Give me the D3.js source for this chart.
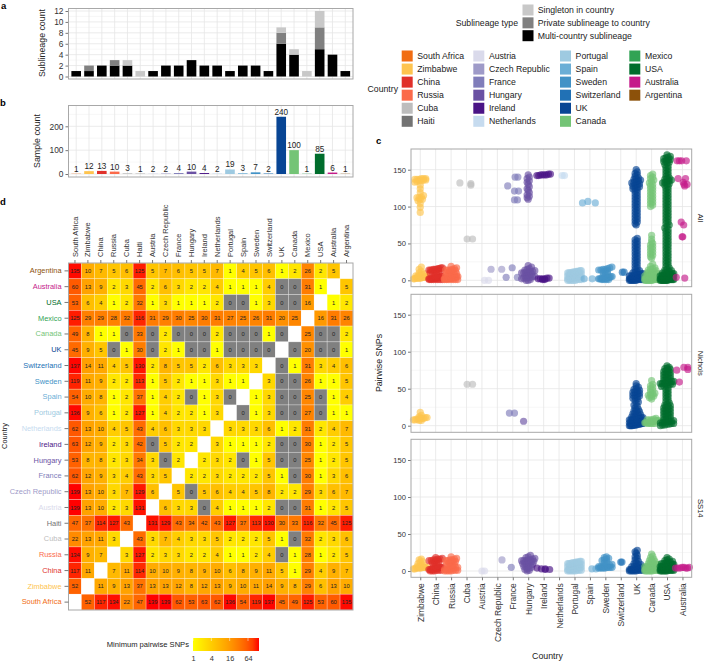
<!DOCTYPE html>
<html lang="en">
<head>
<meta charset="UTF-8">
<title>Sublineages by country</title>
<script src="https://d3js.org/d3.v7.min.js"></script>
<style>
  html, body { margin: 0; padding: 0; background: #fff; }
  svg { display: block; }
  text { font-family: "Liberation Sans", Arial, sans-serif; }
  .tick text { fill: #333; }
  .domain { display: none; }
</style>
</head>
<body>
<svg id="chart" width="705" height="662"></svg>
<script>
// ---- data ----
var countries = ["South Africa", "Zimbabwe", "China", "Russia", "Cuba", "Haiti", "Austria", "Czech Republic",
    "France", "Hungary", "Ireland", "Netherlands", "Portugal", "Spain", "Sweden", "Switzerland",
    "UK", "Canada", "Mexico", "USA", "Australia", "Argentina"];
var countryColors = ["#f16d13", "#fec44f", "#e0302a", "#fb6a4a", "#bdbdbd", "#737373", "#dadaeb", "#9e9ac8",
    "#807dba", "#6a51a3", "#4a1486", "#c6dbef", "#9ecae1", "#6baed6", "#4292c6", "#2171b5",
    "#084594", "#74c476", "#31a354", "#006d2c", "#c51b8a", "#8c510a"];

var multiCountry = [1, 1, 2, 2, 2, 0, 1, 2, 2, 3, 2, 2, 1, 2, 2, 1, 6, 4, 0, 5, 4, 1];
var privateSub   = [0, 1, 0, 1, 0, 0, 0, 0, 0, 0, 0, 0, 0, 0, 0, 0, 2, 0, 0, 4, 0, 0];
var singleton    = [0, 0, 0, 0, 1, 1, 0, 0, 0, 0, 0, 0, 0, 0, 0, 0, 1, 1, 1, 3, 0, 0];
var sampleCount  = [1, 12, 13, 10, 3, 1, 2, 2, 4, 10, 4, 2, 19, 3, 7, 2, 240, 100, 1, 85, 6, 1];

// rows from top to bottom, columns in country order, null on the diagonal
var heatRows = ["Argentina", "Australia", "USA", "Mexico", "Canada", "UK", "Switzerland", "Sweden", "Spain",
    "Portugal", "Netherlands", "Ireland", "Hungary", "France", "Czech Republic", "Austria", "Haiti", "Cuba",
    "Russia", "China", "Zimbabwe", "South Africa"];
var heatValues = [
    [135, 10, 7, 5, 6, 125, 5, 7, 6, 5, 5, 7, 1, 4, 5, 6, 1, 2, 26, 2, 5, null],
    [60, 13, 9, 2, 3, 45, 2, 6, 3, 2, 2, 4, 1, 1, 1, 4, 0, 0, 31, 1, null, 5],
    [53, 6, 4, 1, 2, 32, 1, 3, 1, 1, 1, 2, 0, 0, 1, 3, 0, 0, 16, null, 1, 2],
    [125, 29, 29, 28, 32, 116, 31, 29, 30, 25, 30, 31, 27, 25, 26, 31, 20, 25, null, 16, 31, 26],
    [49, 8, 1, 1, 0, 33, 0, 2, 0, 0, 0, 2, 0, 0, 0, 1, 0, null, 25, 0, 0, 2],
    [45, 9, 5, 0, 1, 30, 0, 2, 1, 0, 0, 1, 0, 0, 0, 0, null, 0, 20, 0, 0, 1],
    [137, 14, 11, 4, 5, 130, 2, 8, 5, 5, 2, 6, 3, 3, 3, null, 0, 1, 31, 3, 4, 6],
    [119, 11, 9, 2, 2, 113, 1, 5, 2, 1, 1, 3, 1, 1, null, 3, 0, 0, 26, 1, 1, 5],
    [54, 10, 8, 1, 2, 37, 1, 4, 2, 0, 1, 3, 0, null, 1, 3, 0, 0, 25, 0, 1, 4],
    [136, 9, 6, 1, 2, 127, 1, 4, 2, 2, 1, 3, null, 0, 1, 3, 0, 0, 27, 0, 1, 1],
    [62, 13, 10, 4, 5, 43, 4, 6, 3, 3, 3, null, 3, 3, 3, 6, 1, 2, 31, 2, 4, 7],
    [63, 12, 9, 2, 3, 42, 0, 5, 2, 2, null, 3, 1, 1, 1, 2, 0, 0, 30, 1, 2, 5],
    [53, 8, 8, 2, 3, 34, 3, 0, 2, null, 2, 3, 2, 0, 1, 5, 0, 0, 25, 1, 2, 5],
    [62, 12, 9, 3, 4, 43, 3, 5, null, 2, 2, 3, 2, 2, 2, 5, 1, 0, 30, 1, 3, 6],
    [139, 13, 10, 3, 7, 129, 6, null, 5, 0, 5, 6, 4, 4, 5, 8, 2, 2, 29, 3, 6, 7],
    [139, 13, 10, 2, 3, 131, null, 6, 3, 3, 0, 4, 1, 1, 1, 2, 0, 0, 31, 1, 2, 5],
    [47, 37, 114, 127, 43, null, 131, 129, 43, 34, 42, 43, 127, 37, 113, 130, 30, 33, 116, 32, 45, 125],
    [22, 13, 11, 3, null, 43, 3, 7, 4, 3, 3, 5, 2, 2, 2, 5, 1, 0, 32, 2, 3, 6],
    [134, 9, 7, null, 3, 127, 2, 3, 3, 2, 2, 4, 1, 1, 2, 4, 0, 1, 28, 1, 2, 5],
    [117, 11, null, 7, 11, 114, 10, 10, 9, 8, 9, 10, 6, 8, 9, 11, 5, 1, 29, 4, 9, 7],
    [52, null, 11, 9, 13, 37, 13, 13, 12, 8, 12, 13, 9, 10, 11, 14, 9, 8, 29, 6, 13, 10],
    [null, 52, 117, 134, 22, 47, 139, 139, 62, 53, 63, 62, 136, 54, 119, 137, 45, 49, 125, 53, 60, 135]
];
var heatLegendTicks = [1, 4, 16, 64];

var snpCountries = ["Zimbabwe", "China", "Russia", "Cuba", "Austria", "Czech Republic", "France", "Hungary",
    "Ireland", "Netherlands", "Portugal", "Spain", "Sweden", "Switzerland", "UK", "Canada", "USA", "Australia"];

// pairwise SNPs per country
var allSnps = {
    "Zimbabwe": [2, 2, 3, 3, 3, 3, 3, 4, 4, 4, 5, 5, 6, 6, 7, 8, 9, 10, 12, 15, 18, 92, 99, 104, 108, 110, 110, 112, 112, 113, 115, 119, 124, 129, 133, 134, 135, 135, 136, 136, 137, 137, 137, 138, 138, 138],
    "China": [1, 1, 1, 1, 1, 1, 1, 2, 2, 2, 2, 3, 3, 3, 3, 4, 4, 4, 5, 5, 6, 7, 10, 11, 12, 12, 13, 13, 14, 14, 14, 15, 15, 15, 16, 16, 17, 17],
    "Russia": [1, 1, 1, 1, 1, 1, 1, 2, 2, 2, 2, 3, 3, 3, 3, 4, 4, 4, 5, 5, 6, 6, 7, 7, 8, 9, 10, 11, 12, 13, 13, 14, 14, 14, 15, 16, 17, 19],
    "Cuba": [132, 131, 129, 56, 56],
    "Austria": [0, 0],
    "Czech Republic": [15, 15],
    "France": [4, 17, 4, 128, 140, 140, 121, 121, 109, 109],
    "Hungary": [0, 0, 1, 2, 3, 3, 4, 4, 5, 5, 6, 7, 8, 9, 10, 10, 11, 11, 12, 12, 13, 14, 15, 16, 18, 20, 110, 112, 114, 116, 119, 122, 124, 127, 130, 133, 135, 138, 140, 143],
    "Ireland": [1, 1, 2, 2, 2, 2, 3, 3, 142, 142, 143, 143, 143, 143, 144, 144],
    "Netherlands": [142, 142],
    "Portugal": [0, 0, 0, 0, 0, 1, 1, 1, 2, 2, 2, 3, 3, 3, 4, 4, 4, 5, 5, 5, 6, 6, 7, 7, 8, 8, 9, 9, 10, 10, 10, 10, 11, 11, 11, 12, 12, 12, 13, 13],
    "Spain": [2, 2, 105, 107, 105],
    "Sweden": [1, 1, 1, 1, 2, 2, 2, 2, 3, 3, 3, 3, 4, 4, 5, 5, 6, 7, 9, 11, 12, 13, 14, 14, 15, 15, 16, 17, 18],
    "Switzerland": [11, 11],
    "UK": [0, 0, 0, 0, 0, 0, 1, 1, 1, 1, 1, 2, 2, 2, 2, 2, 3, 3, 3, 3, 4, 4, 4, 5, 5, 5, 6, 6, 6, 7, 7, 8, 8, 9, 9, 10, 11, 12, 13, 15, 17, 19, 21, 23, 25, 27, 29, 31, 33, 35, 37, 39, 41, 43, 45, 47, 49, 51, 53, 55, 57, 75, 77, 79, 81, 83, 85, 87, 89, 91, 93, 95, 97, 99, 101, 103, 105, 107, 109, 111, 113, 115, 117, 119, 121, 123, 124, 125, 126, 127, 128, 129, 130, 131, 132, 133, 134, 135, 136, 137, 138, 139, 141, 143, 145, 147, 150],
    "Canada": [0, 0, 0, 0, 0, 0, 0, 1, 1, 1, 1, 1, 2, 2, 2, 2, 3, 3, 3, 3, 4, 4, 4, 5, 5, 5, 6, 6, 7, 7, 8, 8, 9, 9, 10, 11, 11, 12, 13, 14, 15, 16, 17, 19, 22, 30, 32, 34, 36, 38, 40, 42, 44, 46, 48, 50, 52, 56, 61, 100, 102, 104, 106, 108, 110, 112, 114, 116, 118, 120, 122, 124, 126, 128, 130, 132, 134, 136, 138, 140, 142, 144],
    "USA": [0, 0, 0, 0, 0, 0, 0, 0, 1, 1, 1, 1, 1, 1, 2, 2, 2, 2, 2, 3, 3, 3, 3, 3, 4, 4, 4, 4, 5, 5, 5, 5, 6, 6, 6, 7, 7, 7, 8, 8, 8, 9, 9, 10, 10, 11, 12, 13, 14, 15, 17, 19, 21, 23, 25, 27, 29, 31, 33, 35, 37, 39, 41, 43, 45, 47, 49, 51, 53, 55, 57, 59, 61, 63, 65, 67, 69, 71, 73, 75, 77, 79, 81, 83, 85, 87, 89, 91, 93, 95, 97, 99, 101, 103, 105, 107, 109, 111, 113, 115, 117, 119, 121, 123, 125, 127, 129, 130, 131, 132, 133, 134, 135, 136, 137, 138, 139, 141, 143, 145, 147, 149, 151, 153, 155, 157, 159, 160, 161, 162, 163, 164, 165, 166, 167, 168, 170],
    "Australia": [162, 162, 162, 162, 138, 138, 130, 130, 128, 133, 79, 75, 59, 59, 4, 3]
};
var nicholsSnps = {
    "Zimbabwe": [7, 7, 8, 8, 9, 9, 10, 10, 10, 11, 11, 12, 14, 18],
    "Cuba": [56, 56],
    "France": [17, 17],
    "Hungary": [6],
    "UK": [0, 0, 0, 0, 1, 1, 1, 1, 2, 2, 2, 2, 3, 3, 3, 4, 4, 4, 5, 5, 5, 6, 6, 6, 7, 7, 7, 8, 8, 8, 9, 9, 9, 10, 10, 11, 11, 12, 12, 13, 14, 15, 16, 17, 18, 19, 20, 21, 22, 24, 26, 28, 30, 32, 34, 36, 37, 38, 39, 40, 41, 42, 43, 44, 45, 46, 47, 48, 49, 50, 52, 54, 57],
    "Canada": [3, 3, 3, 3, 4, 4, 4, 4, 5, 5, 5, 5, 6, 6, 6, 6, 7, 7, 7, 8, 8, 8, 9, 10, 36, 38, 39, 40, 41, 42, 43, 44, 46, 48, 50, 52, 54, 56, 61],
    "USA": [0, 1, 1, 2, 2, 3, 3, 4, 4, 5, 5, 6, 6, 7, 8, 9, 10, 11, 12, 13, 14, 15, 16, 17, 18, 19, 20, 21, 22, 23, 24, 25, 26, 27, 28, 29, 31, 33, 35, 37, 39, 41, 43, 45, 47, 49, 51, 53, 54, 55, 55, 56, 56, 57, 57, 58, 58, 59, 59, 60, 60, 61, 62, 63, 64, 65, 66, 67, 68, 69, 70, 71, 72, 73, 74, 75, 76, 77, 78, 79, 81],
    "Australia": [75, 79, 79, 76, 59]
};
var ss14Snps = {
    "Zimbabwe": [3, 3, 4, 4, 4, 4, 5, 5, 5, 5, 6, 6, 7, 8, 10, 12, 13, 15, 16],
    "China": [0, 0, 0, 1, 1, 1, 2, 2, 2, 3, 3, 3, 4, 4, 4, 5, 5, 5, 6, 6, 7, 11, 12, 13, 13, 14, 14, 15, 15, 16, 16, 17, 18],
    "Russia": [0, 0, 0, 0, 1, 1, 1, 2, 2, 3, 3, 4, 5, 5, 6, 7, 8, 9, 10, 11, 12, 13, 13, 14, 14, 15, 15, 16, 17, 19],
    "Austria": [0, 0],
    "Czech Republic": [15],
    "France": [5],
    "Hungary": [0, 1, 2, 3, 4, 5, 6, 6, 7, 8, 9, 10, 11, 12, 12, 13, 13, 14, 14, 14, 15, 15, 16, 17, 18, 19, 21],
    "Ireland": [4, 3, 2, 3, 2],
    "Portugal": [0, 0, 0, 0, 0, 1, 1, 1, 2, 2, 2, 3, 3, 3, 4, 4, 4, 5, 5, 5, 6, 6, 7, 7, 8, 8, 9, 9, 10, 10, 10, 11, 11, 11, 12, 12, 12, 13, 13],
    "Spain": [3, 3],
    "Sweden": [4, 4, 4, 4, 4, 5, 5, 5, 5, 6, 6, 6, 7, 7, 8, 9, 11, 13, 14, 15, 16, 17, 18, 19],
    "Switzerland": [12, 12],
    "UK": [0, 0, 0, 0, 0, 1, 1, 1, 1, 2, 2, 2, 2, 3, 3, 3, 4, 4, 4, 5, 5, 6, 6, 7, 8, 9, 10, 11, 13, 15, 17, 19, 21, 24, 26, 28],
    "Canada": [0, 0, 0, 0, 0, 0, 1, 1, 1, 1, 2, 2, 2, 2, 3, 3, 3, 3, 4, 4, 4, 5, 5, 5, 6, 6, 6, 7, 7, 8, 8, 9, 9, 10, 11, 12, 13, 14, 15, 16, 18, 20, 23],
    "USA": [0, 0, 0, 0, 0, 0, 1, 1, 1, 1, 1, 2, 2, 2, 2, 3, 3, 3, 3, 3, 4, 4, 4, 4, 5, 5, 5, 5, 6, 6, 6, 6, 7, 7, 7, 8, 8, 8, 9, 9, 9, 10, 10, 11, 12, 12, 13, 14, 15, 16, 18],
    "Australia": [4, 4, 4, 5, 5, 4, 4, 5]
};
// sideways jitter of the sparse groups, in category widths, same order as the values above
var allJitter = {
    "Cuba": [-0.43, 0.28, 0.28, 0.04, 0.39],
    "Austria": [0.17, 0.43],
    "Czech Republic": [-0.41, 0.28],
    "France": [-0.43, -0.04, 0.3, -0.33, 0.15, 0.33, 0.11, 0.37, 0.11, 0.3],
    "Netherlands": [0.2, 0.35],
    "Spain": [-0.37, 0.15, -0.48, -0.13, 0.35],
    "Switzerland": [0.1, 0.22],
    "Australia": [-0.35, -0.2, -0.05, 0.25, -0.28, 0.2, 0.1, 0.3, 0.15, 0.05, -0.08, 0.08, -0.02, 0.02, -0.4, 0.15]
};
var nicholsJitter = {
    "Cuba": [0.04, 0.39],
    "France": [-0.22, 0.11],
    "Hungary": [-0.3],
    "Australia": [-0.37, 0.09, 0.35, 0.35, -0.2]
};
var ss14Jitter = {
    "Austria": [0, 0.17],
    "Czech Republic": [0.3],
    "France": [-0.1],
    "Ireland": [-0.43, -0.15, 0.1, 0.1, 0.39],
    "Spain": [0.13, 0.39],
    "Switzerland": [0.0, 0.08],
    "Australia": [-0.45, -0.3, -0.15, -0.02, 0.1, 0.22, 0.33, 0.45]
};
var subTypes = ["Singleton in country", "Private sublineage to country", "Multi-country sublineage"];
var subColors = ["#c8c8c8", "#808080", "#000000"];

// ---- setup ----
var svg = d3.select("#chart");
var colorOf = d3.scaleOrdinal().domain(countries).range(countryColors);
var BORDER = "#a8a8a8", MAJOR = "#e6e6e6", MINOR = "#f3f3f3";

function panelLetter(t, x, y) {
    svg.append("text").attr("x", x).attr("y", y).attr("font-size", 9.5).attr("font-weight", "bold").text(t);
}

// grid, left axis and border of a panel
function framePanel(box, y, ticks, minor, xPoints, fontSize) {
    var g = svg.append("g");
    minor.forEach(function (v) {
        g.append("line").attr("x1", box.x0).attr("x2", box.x1).attr("y1", y(v)).attr("y2", y(v)).attr("stroke", MINOR).attr("stroke-width", 0.7);
    });
    ticks.forEach(function (v) {
        g.append("line").attr("x1", box.x0).attr("x2", box.x1).attr("y1", y(v)).attr("y2", y(v)).attr("stroke", MAJOR).attr("stroke-width", 0.8);
    });
    xPoints.forEach(function (v) {
        g.append("line").attr("x1", v).attr("x2", v).attr("y1", box.y0).attr("y2", box.y1).attr("stroke", MAJOR).attr("stroke-width", 0.8);
    });
    svg.append("g").attr("transform", "translate(" + box.x0 + ",0)")
        .call(d3.axisLeft(y).tickValues(ticks).tickSize(3).tickPadding(2))
        .call(function (a) {
            a.selectAll("text").attr("font-size", fontSize);
            a.selectAll("line").attr("stroke", "#777");
        });
    return function () {
        svg.append("rect").attr("x", box.x0).attr("y", box.y0).attr("width", box.x1 - box.x0).attr("height", box.y1 - box.y0)
            .attr("fill", "none").attr("stroke", BORDER).attr("stroke-width", 1);
    };
}

// ---- panel a ----
panelLetter("a", 1, 9);
var boxA = { x0: 68.5, x1: 353, y0: 8.5, y1: 79 };
var xBars = d3.scalePoint().domain(countries).range([boxA.x0, boxA.x1]).padding(0.6);
var barW = xBars.step() * 0.75;
var yA = d3.scaleLinear().domain([0, 12]).range([76.5, 11]);
var closeA = framePanel(boxA, yA, [0, 2, 4, 6, 8, 10, 12], [1, 3, 5, 7, 9, 11], countries.map(function (c) { return xBars(c); }), 8.4);

var stackRows = countries.map(function (c, i) {
    return { country: c, multi: multiCountry[i], priv: privateSub[i], single: singleton[i] };
});
var stacked = d3.stack().keys(["multi", "priv", "single"])(stackRows);
var stackFill = { multi: subColors[2], priv: subColors[1], single: subColors[0] };
svg.append("g").selectAll("g").data(stacked).enter().append("g")
    .attr("fill", function (s) { return stackFill[s.key]; })
    .selectAll("rect").data(function (s) { return s; }).enter().append("rect")
    .attr("x", function (d) { return xBars(d.data.country) - barW / 2; })
    .attr("width", barW)
    .attr("y", function (d) { return yA(d[1]); })
    .attr("height", function (d) { return yA(d[0]) - yA(d[1]); });
closeA();
svg.append("text").attr("transform", "translate(44.5,43) rotate(-90)").attr("text-anchor", "middle").attr("font-size", 8.8).attr("fill", "#222").text("Sublineage count");

// ---- panel b ----
panelLetter("b", 0, 106);
var boxB = { x0: 68.5, x1: 353, y0: 105.5, y1: 177 };
var yB = d3.scaleLinear().domain([0, 200]).range([174, 126.3]);
var closeB = framePanel(boxB, yB, [0, 100, 200], [50, 150, 250], countries.map(function (c) { return xBars(c); }), 8.4);
svg.append("g").selectAll("rect").data(countries).enter().append("rect")
    .attr("x", function (c) { return xBars(c) - barW / 2; })
    .attr("width", barW)
    .attr("y", function (c, i) { return yB(sampleCount[i]); })
    .attr("height", function (c, i) { return yB(0) - yB(sampleCount[i]); })
    .attr("fill", function (c) { return colorOf(c); });
svg.append("g").selectAll("text").data(countries).enter().append("text")
    .attr("x", function (c) { return xBars(c); })
    .attr("y", function (c, i) { return yB(sampleCount[i]) - 2; })
    .attr("text-anchor", "middle").attr("font-size", 8.2).attr("fill", "#222")
    .text(function (c, i) { return sampleCount[i]; });
closeB();
svg.append("text").attr("transform", "translate(40,141) rotate(-90)").attr("text-anchor", "middle").attr("font-size", 8.8).attr("fill", "#222").text("Sample count");

// ---- panel d ----
panelLetter("d", 0, 205);
var xHeat = d3.scaleBand().domain(countries).range([68.5, 353]);
var yHeat = d3.scaleBand().domain(heatRows).range([263, 610]);
var heatDomain = [1, 12, 139];
var heatColor = d3.scaleLog().domain(heatDomain).range(["#ffff00", "#ffa500", "#ff0000"]).interpolate(d3.interpolateLab);

var cells = [];
heatRows.forEach(function (r, i) {
    countries.forEach(function (c, j) {
        cells.push({ row: r, col: c, value: heatValues[i][j] });
    });
});
function cellFill(v) {
    if (v === null) return "#ffffff";
    return v === 0 ? "#808080" : heatColor(v);
}
svg.append("g").selectAll("rect").data(cells).enter().append("rect")
    .attr("x", function (d) { return xHeat(d.col); })
    .attr("y", function (d) { return yHeat(d.row); })
    .attr("width", xHeat.bandwidth())
    .attr("height", yHeat.bandwidth())
    .attr("fill", function (d) { return cellFill(d.value); })
    .attr("stroke", "#fff").attr("stroke-opacity", 0.45).attr("stroke-width", 0.6);
svg.append("g").selectAll("text").data(cells.filter(function (d) { return d.value !== null; })).enter().append("text")
    .attr("x", function (d) { return xHeat(d.col) + xHeat.bandwidth() / 2; })
    .attr("y", function (d) { return yHeat(d.row) + yHeat.bandwidth() / 2; })
    .attr("dy", "0.36em").attr("text-anchor", "middle").attr("font-size", 5.8).attr("fill", "#222")
    .text(function (d) { return d.value; });
svg.append("rect").attr("x", 68.5).attr("y", 263).attr("width", 284.5).attr("height", 347).attr("fill", "none").attr("stroke", BORDER).attr("stroke-width", 1);

svg.append("g").attr("transform", "translate(68.5,0)")
    .call(d3.axisLeft(yHeat).tickSize(4).tickPadding(3))
    .call(function (a) {
        a.selectAll("line").attr("stroke", "#777");
        a.selectAll("text").attr("font-size", 7.4).style("fill", function (r) { return colorOf(r); });
    });
svg.append("g").attr("transform", "translate(0,263)")
    .call(d3.axisTop(xHeat).tickSize(3).tickPadding(2))
    .call(function (a) {
        a.selectAll("line").attr("stroke", "#777");
        a.selectAll("text").attr("font-size", 7.5).attr("text-anchor", "start").attr("dy", "0.34em")
            .attr("transform", "rotate(-90)").attr("x", 6).attr("y", 0);
    });
svg.append("text").attr("transform", "translate(7,436) rotate(-90)").attr("text-anchor", "middle").attr("font-size", 7.4).attr("fill", "#222").text("Country");

// heat legend
var legendScale = d3.scaleLog().base(2).domain([1, 147]).range([193, 259]);
var gradient = svg.append("defs").append("linearGradient").attr("id", "heatLegend");
d3.range(0, 1.01, 0.1).forEach(function (t) {
    gradient.append("stop").attr("offset", t).attr("stop-color", heatColor(legendScale.invert(193 + 66 * t)));
});
svg.append("rect").attr("x", 193).attr("y", 638).attr("width", 66).attr("height", 13).attr("fill", "url(#heatLegend)");
svg.append("text").attr("x", 189).attr("y", 646.5).attr("text-anchor", "end").attr("font-size", 7.6).attr("fill", "#222").text("Minimum pairwise SNPs");
svg.append("g").attr("transform", "translate(0,651)")
    .call(d3.axisBottom(legendScale).tickValues(heatLegendTicks).tickSize(0).tickPadding(5).tickFormat(d3.format("d")))
    .call(function (a) { a.selectAll("text").attr("font-size", 7.4); });
svg.append("g").selectAll("line").data(heatLegendTicks).enter().append("line")
    .attr("x1", function (v) { return legendScale(v); }).attr("x2", function (v) { return legendScale(v); })
    .attr("y1", 638).attr("y2", 641).attr("stroke", "#fff").attr("stroke-width", 0.5);

// ---- legends ----
var subRow = d3.scalePoint().domain(subTypes).range([10, 35.7]);
subTypes.forEach(function (s, i) {
    svg.append("rect").attr("x", 522.5).attr("y", subRow(s) - 5.5).attr("width", 11).attr("height", 11).attr("fill", subColors[i]);
    svg.append("text").attr("x", 537.7).attr("y", subRow(s)).attr("dy", "0.35em").attr("font-size", 8.7).attr("fill", "#222").text(s);
});
svg.append("text").attr("x", 518).attr("y", 23).attr("dy", "0.35em").attr("text-anchor", "end").attr("font-size", 8.7).attr("fill", "#222").text("Sublineage type");

var legendCols = [401.7, 473.3, 560, 629.3];
var legendRow = d3.scaleLinear().domain([0, 5]).range([56, 121.3]);
countries.forEach(function (c, i) {
    var col = Math.floor(i / 6), row = i % 6;
    svg.append("rect").attr("x", legendCols[col]).attr("y", legendRow(row) - 5.5).attr("width", 11).attr("height", 11).attr("fill", colorOf(c));
    svg.append("text").attr("x", legendCols[col] + 15.6).attr("y", legendRow(row)).attr("dy", "0.35em").attr("font-size", 8.7).attr("fill", "#222").text(c);
});
svg.append("text").attr("x", 398).attr("y", 89).attr("dy", "0.35em").attr("text-anchor", "end").attr("font-size", 8.7).attr("fill", "#222").text("Country");

// ---- panel c ----
panelLetter("c", 376, 144);
var xSnp = d3.scalePoint().domain(snpCountries).range([411, 691.7]).padding(0.6);
var DOT_R = 3.6, BIN_PX = 3, SPREAD_STEP = 2.2, SPREAD_MAX = 6.8;

// dots sharing a height bin are spread out sideways, width follows the count
function spreadOffsets(ys) {
    var out = [];
    d3.group(d3.range(ys.length), function (i) { return Math.floor(ys[i] / BIN_PX); }).forEach(function (idx) {
        var half = Math.min((idx.length - 1) * SPREAD_STEP / 2, SPREAD_MAX);
        idx.forEach(function (i, k) {
            out[i] = idx.length > 1 ? -half + 2 * half * k / (idx.length - 1) : 0;
        });
    });
    return out;
}

var facets = [
    { name: "All", values: allSnps, jitter: allJitter, y0: 149, y1: 286.7, zero: 280.3, top: 169.7 },
    { name: "Nichols", values: nicholsSnps, jitter: nicholsJitter, y0: 294.3, y1: 432.3, zero: 425.7, top: 314.7 },
    { name: "SS14", values: ss14Snps, jitter: ss14Jitter, y0: 439.3, y1: 577.3, zero: 571, top: 460 }
];
facets.forEach(function (f) {
    var y = d3.scaleLinear().domain([0, 150]).range([f.zero, f.top]);
    var close = framePanel({ x0: 411, x1: 691.7, y0: f.y0, y1: f.y1 }, y, [0, 50, 100, 150], [25, 75, 125],
        snpCountries.map(function (c) { return xSnp(c); }), 7.6);
    var g = svg.append("g");
    snpCountries.forEach(function (c) {
        var vals = f.values[c];
        if (!vals) return;
        var jit = f.jitter[c];
        var offs = jit ? jit.map(function (j) { return j * xSnp.step(); }) : spreadOffsets(vals.map(y));
        g.selectAll(null).data(vals).enter().append("circle")
            .attr("cx", function (v, i) { return xSnp(c) + offs[i]; })
            .attr("cy", function (v) { return y(v); })
            .attr("r", DOT_R)
            .attr("fill", colorOf(c))
            .attr("fill-opacity", 0.65);
    });
    close();
    svg.append("text").attr("transform", "translate(698," + ((f.y0 + f.y1) / 2) + ") rotate(90)")
        .attr("text-anchor", "middle").attr("font-size", 7.6).attr("fill", "#222").text(f.name);
});
svg.append("text").attr("transform", "translate(382,363) rotate(-90)").attr("text-anchor", "middle").attr("font-size", 8.8).attr("fill", "#222").text("Pairwise SNPs");

// category axis under the last facet
svg.append("g").attr("transform", "translate(0,577.3)")
    .call(d3.axisBottom(xSnp).tickSize(3).tickPadding(2))
    .call(function (a) {
        a.selectAll("line").attr("stroke", "#777");
        a.selectAll("text").attr("font-size", 8.4).attr("text-anchor", "end").attr("dy", "0.35em")
            .attr("transform", "rotate(-90)").attr("x", -6).attr("y", 0);
    });
svg.append("text").attr("x", 547.5).attr("y", 659).attr("text-anchor", "middle").attr("font-size", 8.8).attr("fill", "#222").text("Country");
</script>
</body>
</html>
